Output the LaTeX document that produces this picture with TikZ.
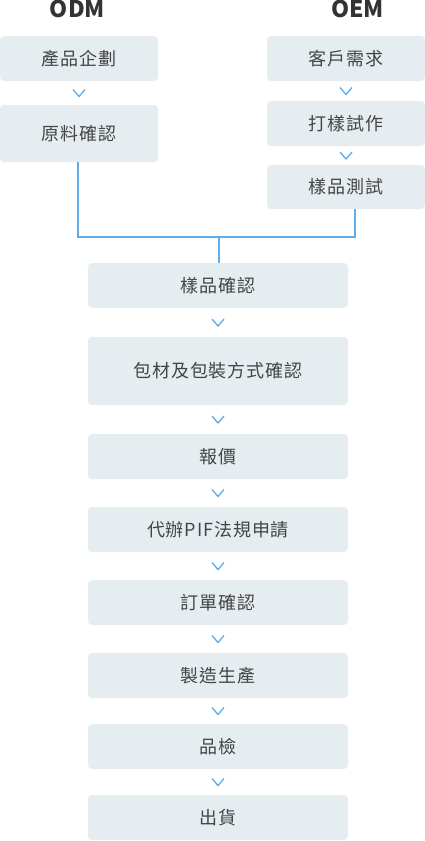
\documentclass[tikz,border=0pt]{standalone}
\usepackage{fontspec}
\newfontfamily\cjk{Noto Sans CJK TC}[LetterSpace=5]
\newfontfamily\hdr{Noto Sans CJK TC}
\usetikzlibrary{calc}
\definecolor{boxfill}{HTML}{E6EDF1}
\definecolor{accent}{HTML}{5DADEC}
\definecolor{txt}{HTML}{444444}
\definecolor{hdrc}{HTML}{333333}
\tikzset{
  box/.style={fill=boxfill, rounded corners=4pt, inner sep=0pt, text=txt,
    font=\cjk\fontsize{18}{22}\selectfont},
  sidebox/.style={box, minimum width=158pt, minimum height=45pt},
  midbox/.style={box, minimum width=260pt, minimum height=45pt},
  hdrtext/.style={font=\hdr\bfseries\fontsize{23}{26}\selectfont, text=hdrc, inner sep=0pt},
  conn/.style={draw=accent, line width=2pt},
  chev/.pic={\draw[accent, line width=1.3pt, line join=miter] (-6,-3.5) -- (0,3.5) -- (6,-3.5);}
}
\newcommand{\chevbetween}[2]{\pic at ($(#1.south)!0.5!(#2.north)$) {chev};}
\begin{document}
\begin{tikzpicture}[x=1pt,y=-1pt]
\useasboundingbox (0,0) rectangle (425,841);
\fill[white] (0,0) rectangle (425,841);
% headers
\node[hdrtext] (hodm) at (77.5,9) {ODM};
\node[hdrtext] (hoem) at (357.5,9) {OEM};
% left column
\node[sidebox] (l1) at (79,58.5) {產品企劃};
\node[sidebox, minimum height=57pt] (l2) at (79,133.5) {原料確認};
% right column
\node[sidebox] (r1) at (346,58.5) {客戶需求};
\node[sidebox] (r2) at (346,123.5) {打樣試作};
\node[sidebox, minimum height=44pt] (r3) at (346,187) {樣品測試};
% middle column
\node[midbox] (c1) at (218,285.5) {樣品確認};
\node[midbox, minimum height=68pt] (c2) at (218,371) {包材及包裝方式確認};
\node[midbox] (c3) at (218,456.5) {報價};
\node[midbox] (c4) at (218,529.5) {代辦PIF法規申請};
\node[midbox] (c5) at (218,602.5) {訂單確認};
\node[midbox] (c6) at (218,675.5) {製造生產};
\node[midbox] (c7) at (218,746.5) {品檢};
\node[midbox] (c8) at (218,817.5) {出貨};
% chevrons
\chevbetween{l1}{l2}
\chevbetween{r1}{r2}
\chevbetween{r2}{r3}
\chevbetween{c1}{c2}
\chevbetween{c2}{c3}
\chevbetween{c3}{c4}
\chevbetween{c4}{c5}
\chevbetween{c5}{c6}
\chevbetween{c6}{c7}
\chevbetween{c7}{c8}
% merge connector
\coordinate (join) at (219,237);
\coordinate (lfoot) at ([xshift=-1pt]l2.south);
\coordinate (rfoot) at ([xshift=9pt]r3.south);
\draw[conn] (lfoot) |- (join) -| (rfoot);
\draw[conn] (join) -- (join |- c1.north);
\end{tikzpicture}
\end{document}
